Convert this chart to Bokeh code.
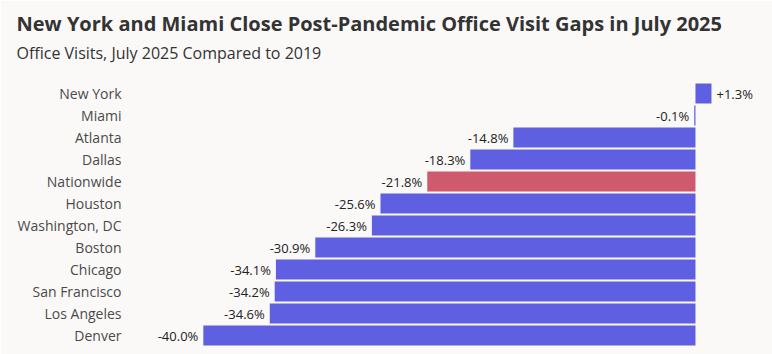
from bokeh.plotting import figure
from bokeh.models import ColumnDataSource, Title, FactorRange, Range1d
from bokeh.core.properties import value
from bokeh.embed import file_html
from bokeh.resources import INLINE

cities = ["New York", "Miami", "Atlanta", "Dallas", "Nationwide", "Houston",
          "Washington, DC", "Boston", "Chicago", "San Francisco", "Los Angeles", "Denver"]
values = [1.3, -0.1, -14.8, -18.3, -21.8, -25.6, -26.3, -30.9, -34.1, -34.2, -34.6, -40.0]
labels = ["+1.3%", "-0.1%", "-14.8%", "-18.3%", "-21.8%", "-25.6%", "-26.3%",
          "-30.9%", "-34.1%", "-34.2%", "-34.6%", "-40.0%"]
highlight = "Nationwide"
title_text = "New York and Miami Close Post-Pandemic Office Visit Gaps in July 2025"
subtitle_text = "Office Visits, July 2025 Compared to 2019"

BAR = "#5F5FE2"
HL = "#CF5A6E"
BG = "#FAF9F8"
FONT = "Open Sans"

colors = [HL if c == highlight else BAR for c in cities]
src = ColumnDataSource(dict(city=cities, val=values, lab=labels, color=colors))
neg = ColumnDataSource(dict(city=[c for c, v in zip(cities, values) if v < 0],
                            val=[v for v in values if v < 0],
                            lab=[l for l, v in zip(labels, values) if v < 0]))
pos = ColumnDataSource(dict(city=[c for c, v in zip(cities, values) if v >= 0],
                            val=[v for v in values if v >= 0],
                            lab=[l for l, v in zip(labels, values) if v >= 0]))

p = figure(width=772, height=354, output_backend="svg", toolbar_location=None,
           y_range=FactorRange(factors=list(reversed(cities))),
           x_range=Range1d(-46.0, 6.26))
p.min_border_left = 129
p.min_border_right = 0
p.min_border_bottom = 8
p.min_border_top = 82
p.background_fill_color = BG
p.border_fill_color = BG
p.outline_line_color = None
p.xgrid.visible = False
p.ygrid.visible = False
p.xaxis.visible = False

ax = p.yaxis[0]
ax.axis_line_color = None
ax.major_tick_line_color = None
ax.minor_tick_line_color = None
ax.major_tick_out = 0
ax.major_tick_in = 0
ax.major_label_standoff = 8
ax.major_label_text_font = FONT
ax.major_label_text_font_size = "14px"
ax.major_label_text_color = "#4A4A4A"

p.hbar(y="city", right="val", left=0, height=0.9, color="color", line_color=None, source=src)

p.text(x="val", y="city", text="lab", source=neg, text_align="right", text_baseline="middle",
       x_offset=-5, text_font=value(FONT), text_font_size="13px", text_color="#222222")
p.text(x="val", y="city", text="lab", source=pos, text_align="left", text_baseline="middle",
       x_offset=5, text_font=value(FONT), text_font_size="13px", text_color="#222222")

sub = Title(text=subtitle_text, text_font=FONT, text_font_size="16px",
            text_font_style="normal", text_color="#333333", offset=-113, standoff=38)
main = Title(text=title_text, text_font=FONT, text_font_size="20px",
             text_font_style="bold", text_color="#333333", offset=-113, standoff=-33,
             text_line_height=1.35)
p.add_layout(sub, "above")
p.add_layout(main, "above")

open("out.html", "w").write(file_html(p, INLINE))
